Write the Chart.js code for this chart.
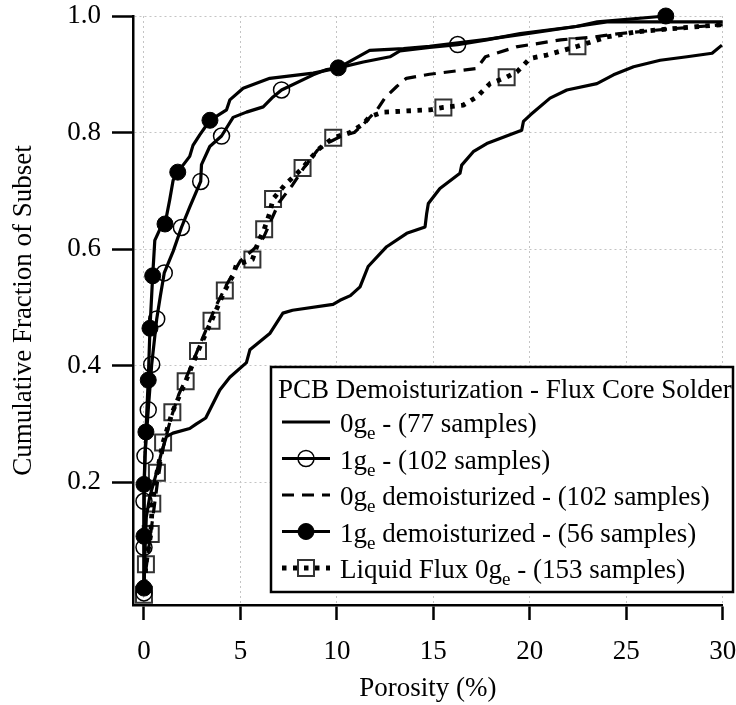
<!DOCTYPE html>
<html>
<head>
<meta charset="utf-8">
<script src="https://cdn.jsdelivr.net/npm/chart.js@4.4.0/dist/chart.umd.min.js"></script>
<style>
  body { margin: 0; background: #fff; }
  #wrap { width: 736px; height: 705px; }
</style>
</head>
<body>
<div id="wrap"><canvas id="js--cdf" width="736" height="705"></canvas></div>
<script>
const xTicks = [0, 5, 10, 15, 20, 25, 30];
const yTicks = [0.2, 0.4, 0.6, 0.8, 1.0];

const legendTitle = "PCB Demoisturization - Flux Core Solder";
const seriesLabels = [
  "0g_e - (77 samples)",
  "1g_e - (102 samples)",
  "0g_e demoisturized - (102 samples)",
  "1g_e demoisturized - (56 samples)",
  "Liquid Flux 0g_e - (153 samples)",
];

// 0ge, solid, no markers
const ge0X = [0, 0.05, 0.12, 0.3, 0.64, 0.9, 1.16, 1.5, 2.37, 2.72, 3.2, 3.93, 4.45, 5.31, 5.49, 6.52, 7.2, 7.7, 9.8, 10.16, 10.7, 11.2, 11.62, 12.58, 13.62, 14.57, 14.65, 14.74, 15.34, 16.38, 16.47, 17.07, 17.77, 19.58, 19.67, 20.02, 21.05, 21.92, 23.48, 24.34, 25.38, 26.76, 28.15, 29.45, 29.96];
const ge0Y = [0.013, 0.08, 0.14, 0.175, 0.215, 0.25, 0.278, 0.284, 0.292, 0.30, 0.31, 0.358, 0.38, 0.405, 0.427, 0.455, 0.49, 0.495, 0.505, 0.512, 0.52, 0.535, 0.570, 0.604, 0.627, 0.638, 0.66, 0.678, 0.704, 0.73, 0.744, 0.767, 0.781, 0.804, 0.819, 0.83, 0.859, 0.873, 0.884, 0.899, 0.913, 0.924, 0.93, 0.936, 0.95];

// 1ge, open circles
const ge1X = [0, 0, 0, 0.05, 0.22, 0.40, 0.66, 0.85, 1.05, 1.51, 1.94, 2.37, 2.94, 2.98, 3.41, 4.02, 4.62, 5.31, 6.18, 6.69, 7.13, 8.77, 9.47, 10.07, 11.37, 12.75, 13.27, 14.8, 16.26, 17.77, 19.5, 22.4, 24.0, 30];
const ge1Y = [0.0098, 0.088, 0.167, 0.245, 0.324, 0.402, 0.48, 0.52, 0.559, 0.596, 0.637, 0.672, 0.716, 0.745, 0.776, 0.794, 0.826, 0.835, 0.844, 0.861, 0.873, 0.899, 0.908, 0.911, 0.921, 0.930, 0.94, 0.946, 0.951, 0.959, 0.97, 0.982, 0.99, 0.99];
const ge1MarkX = [0, 0, 0, 0.05, 0.22, 0.40, 0.66, 1.05, 1.94, 2.94, 4.02, 7.13, 16.26];
const ge1MarkY = [0.0098, 0.088, 0.167, 0.245, 0.324, 0.402, 0.48, 0.559, 0.637, 0.716, 0.794, 0.873, 0.951];

// 0ge demoisturized, dashed
const ge0dX = [0, 0.1, 0.3, 0.5, 0.7, 1.0, 1.4, 1.8, 2.2, 2.7, 3.2, 3.7, 4.3, 5.0, 5.7, 6.2, 6.6, 7.0, 7.7, 8.3, 9.0, 9.7, 10.3, 10.9, 11.4, 12.1, 12.5, 13.1, 13.6, 14.8, 17.25, 17.7, 19.3, 21.6, 23.3, 24.7, 27.3, 30];
const ge0dY = [0.01, 0.05, 0.1, 0.15, 0.2, 0.26, 0.31, 0.35, 0.38, 0.42, 0.46, 0.5, 0.54, 0.58, 0.6, 0.62, 0.65, 0.68, 0.71, 0.74, 0.77, 0.785, 0.795, 0.80, 0.815, 0.84, 0.86, 0.879, 0.893, 0.90, 0.91, 0.93, 0.947, 0.959, 0.964, 0.97, 0.978, 0.985];

// 1ge demoisturized, filled circles
const ge1dX = [0, 0, 0, 0.1, 0.22, 0.31, 0.45, 0.56, 0.81, 1.09, 1.33, 1.51, 1.75, 2.37, 2.54, 2.89, 3.42, 4.28, 4.45, 5.14, 6.52, 8.77, 10.07, 11.7, 13.45, 14.8, 17.77, 19.5, 22.4, 23.5, 27.05];
const ge1dY = [0.018, 0.107, 0.196, 0.286, 0.375, 0.464, 0.554, 0.615, 0.633, 0.643, 0.684, 0.718, 0.732, 0.759, 0.778, 0.796, 0.821, 0.839, 0.856, 0.876, 0.893, 0.902, 0.911, 0.941, 0.944, 0.948, 0.96, 0.968, 0.982, 0.99, 1.0];
const ge1dMarkX = [0, 0, 0, 0.1, 0.22, 0.31, 0.45, 1.09, 1.75, 3.42, 10.07, 27.05];
const ge1dMarkY = [0.018, 0.107, 0.196, 0.286, 0.375, 0.464, 0.554, 0.643, 0.732, 0.821, 0.911, 1.0];

// liquid flux 0ge, dotted with squares
const fluxX = [0, 0.1, 0.35, 0.43, 0.67, 0.99, 1.47, 2.16, 2.8, 3.5, 4.19, 4.62, 4.79, 5.62, 5.9, 6.23, 6.5, 6.69, 7.3, 8.22, 9.0, 9.81, 10.68, 11.37, 11.7, 12.4, 14.83, 15.52, 16.55, 17.25, 17.94, 18.8, 19.33, 20.0, 20.88, 22.47, 24.0, 25.55, 27.3, 29.87, 30];
const fluxY = [0.0065, 0.059, 0.111, 0.163, 0.216, 0.268, 0.320, 0.373, 0.425, 0.477, 0.529, 0.555, 0.573, 0.582, 0.61, 0.634, 0.66, 0.686, 0.71, 0.739, 0.77, 0.791, 0.80, 0.815, 0.827, 0.835, 0.839, 0.843, 0.847, 0.861, 0.884, 0.895, 0.904, 0.927, 0.933, 0.948, 0.964, 0.973, 0.978, 0.985, 0.986];
const fluxMarkX = [0, 0.1, 0.35, 0.43, 0.67, 0.99, 1.47, 2.16, 2.8, 3.5, 4.19, 5.62, 6.23, 6.69, 8.22, 9.81, 15.52, 18.8, 22.47];
const fluxMarkY = [0.0065, 0.059, 0.111, 0.163, 0.216, 0.268, 0.320, 0.373, 0.425, 0.477, 0.529, 0.582, 0.634, 0.686, 0.739, 0.791, 0.843, 0.895, 0.948];

function pts(xs, ys) {
  return xs.map((x, i) => ({ x: x, y: ys[i] }));
}

const serif = "'Liberation Serif', 'Times New Roman', serif";
Chart.defaults.font.family = serif;
Chart.defaults.color = "#000";

function lineSet(xs, ys, dash, width) {
  return {
    data: pts(xs, ys),
    borderColor: "#000",
    borderWidth: width,
    borderDash: dash,
    borderJoinStyle: "round",
    pointRadius: 0,
    tension: 0,
    fill: false,
    clip: false,
  };
}

function markSet(xs, ys, style, radius, fill, border, bw) {
  return {
    data: pts(xs, ys),
    showLine: false,
    pointStyle: style,
    pointRadius: radius,
    pointBackgroundColor: fill,
    pointBorderColor: border,
    pointBorderWidth: bw,
    clip: false,
  };
}

// legend rows: line dataset index + marker dataset index (or -1)
const legendRows = [
  { line: 0, mark: -1 },
  { line: 1, mark: 5 },
  { line: 2, mark: -1 },
  { line: 3, mark: 6 },
  { line: 4, mark: 7 },
];

const fontSize = 27;

const cdfLegend = {
  id: "cdfLegend",
  afterDraw(chart) {
    const ctx = chart.ctx;
    const ds = chart.data.datasets;
    ctx.save();
    ctx.fillStyle = "#fff";
    ctx.fillRect(271, 367, 462, 225);
    ctx.lineWidth = 2.5;
    ctx.strokeStyle = "#000";
    ctx.strokeRect(271, 367, 462, 225);

    ctx.fillStyle = "#000";
    ctx.textBaseline = "alphabetic";
    ctx.font = fontSize + "px " + serif;
    ctx.fillText(legendTitle, 278, 398);

    legendRows.forEach((row, i) => {
      const y = 422 + i * 36.5;
      const l = ds[row.line];
      ctx.save();
      ctx.strokeStyle = "#000";
      ctx.lineWidth = l.borderWidth;
      ctx.setLineDash(l.borderDash || []);
      ctx.beginPath();
      ctx.moveTo(282, y);
      ctx.lineTo(330, y);
      ctx.stroke();
      ctx.restore();

      if (row.mark >= 0) {
        const m = ds[row.mark];
        ctx.save();
        ctx.lineWidth = m.pointBorderWidth;
        ctx.strokeStyle = m.pointBorderColor;
        ctx.fillStyle = m.pointBackgroundColor;
        ctx.beginPath();
        if (m.pointStyle === "rect") {
          const h = m.pointRadius * Math.SQRT1_2;
          ctx.rect(306 - h, y - h, 2 * h, 2 * h);
        } else {
          ctx.arc(306, y, m.pointRadius, 0, Math.PI * 2);
        }
        ctx.fill();
        ctx.stroke();
        ctx.restore();
      }

      // text with subscript e
      const parts = seriesLabels[i].split("_e");
      let x = 340;
      const base = y + 10;
      ctx.font = fontSize + "px " + serif;
      ctx.fillText(parts[0], x, base);
      x += ctx.measureText(parts[0]).width;
      ctx.font = "19px " + serif;
      ctx.fillText("e", x, base + 7);
      x += ctx.measureText("e").width;
      ctx.font = fontSize + "px " + serif;
      ctx.fillText(parts[1], x, base);
    });
    ctx.restore();
  },
};

const axisFont = { family: serif, size: fontSize };

new Chart(document.getElementById("js--cdf"), {
  type: "line",
  data: {
    datasets: [
      lineSet(ge0X, ge0Y, [], 3.2),
      lineSet(ge1X, ge1Y, [], 3.2),
      lineSet(ge0dX, ge0dY, [12, 8], 3.2),
      lineSet(ge1dX, ge1dY, [], 3.2),
      lineSet(fluxX, fluxY, [4.5, 6.5], 4.8),
      markSet(ge1MarkX, ge1MarkY, "circle", 8, "rgba(0,0,0,0)", "#000", 1.5),
      markSet(ge1dMarkX, ge1dMarkY, "circle", 8, "#000", "#000", 1),
      markSet(fluxMarkX, fluxMarkY, "rect", 11.3, "rgba(0,0,0,0)", "#333", 2),
    ],
  },
  options: {
    responsive: false,
    devicePixelRatio: 1,
    animation: false,
    layout: { padding: { top: 16, right: 13, bottom: 0, left: 0 } },
    plugins: {
      legend: { display: false },
      tooltip: { enabled: false },
    },
    scales: {
      x: {
        type: "linear",
        min: -0.57,
        max: 30,
        afterBuildTicks: (s) => { s.ticks = xTicks.map((v) => ({ value: v })); },
        afterFit: (s) => { s.height = 100; s.paddingLeft = 0; s.paddingRight = 0; },
        ticks: { font: axisFont, color: "#000", padding: 16, maxRotation: 0 },
        grid: { color: "#c4c4c4", lineWidth: 1, tickColor: "#000", tickLength: 15, tickWidth: 2.5 },
        border: { display: true, color: "#000", width: 2.5, dash: [2, 3] },
        title: { display: true, text: "Porosity (%)", font: axisFont, color: "#000", padding: { top: 0, bottom: 0 } },
      },
      y: {
        type: "linear",
        min: -0.011,
        max: 1.0,
        afterBuildTicks: (s) => { s.ticks = yTicks.map((v) => ({ value: v })); },
        afterFit: (s) => { s.width = 133; s.paddingTop = 0; s.paddingBottom = 0; },
        ticks: { font: axisFont, color: "#000", padding: 11, callback: (v) => v.toFixed(1) },
        grid: { color: "#c4c4c4", lineWidth: 1, tickColor: "#000", tickLength: 21, tickWidth: 2.5 },
        border: { display: true, color: "#000", width: 2.5, dash: [2, 3] },
        title: { display: true, text: "Cumulative Fraction of Subset", font: axisFont, color: "#000", padding: { top: 8, bottom: 0 } },
      },
    },
  },
  plugins: [cdfLegend],
});
</script>
</body>
</html>
